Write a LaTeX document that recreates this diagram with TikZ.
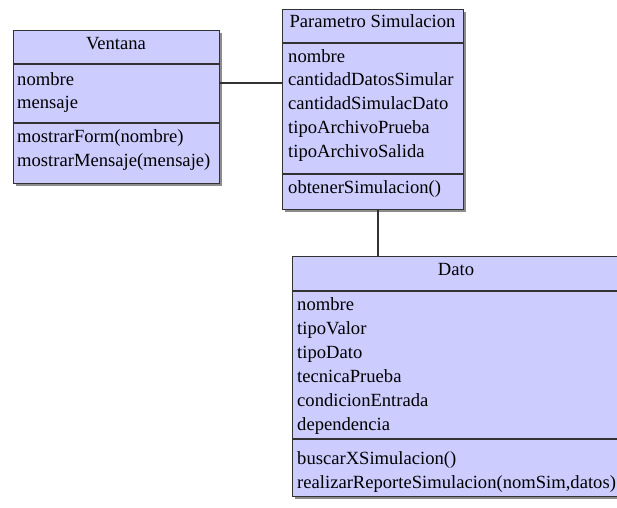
\documentclass[tikz,border=0pt]{standalone}
\usepackage{fontspec}
\setmainfont{Liberation Serif}
\usetikzlibrary{shadows}
\definecolor{classfill}{RGB}{204,204,255}
\definecolor{classline}{RGB}{50,50,50}
\tikzset{
  classbox/.style={draw=classline, line width=1.1pt, fill=classfill, inner sep=0pt,
    anchor=north west,
    drop shadow={shadow xshift=2.5pt, shadow yshift=-2.5pt, fill=black, opacity=0.45}},
  sepline/.style={draw=classline, line width=1.1pt},
  link/.style={draw=classline, line width=1.2pt},
  title/.style={font=\fontsize{18.6}{23.7}\selectfont, anchor=base, inner sep=0pt},
  member/.style={font=\fontsize{18.6}{23.7}\selectfont, anchor=base west, inner sep=0pt},
}
\begin{document}
\begin{tikzpicture}[x=1pt, y=-1pt]
\useasboundingbox (0,0) rectangle (617,507);

% class boxes
\node[classbox, minimum width=206.6pt, minimum height=153pt] (ventana) at (12.7,30) {};
\node[classbox, minimum width=181pt, minimum height=200.5pt] (param) at (282,8.5) {};
\node[classbox, minimum width=328pt, minimum height=240pt] (dato) at (292,256) {};

% compartment separators
\draw[sepline] ([yshift=-34pt]ventana.north west) -- ([yshift=-34pt]ventana.north east);
\draw[sepline] ([yshift=-93pt]ventana.north west) -- ([yshift=-93pt]ventana.north east);
\draw[sepline] ([yshift=-34.5pt]param.north west) -- ([yshift=-34.5pt]param.north east);
\draw[sepline] ([yshift=-165.5pt]param.north west) -- ([yshift=-165.5pt]param.north east);
\draw[sepline] ([yshift=-35pt]dato.north west) -- ([yshift=-35pt]dato.north east);
\draw[sepline] ([yshift=-183pt]dato.north west) -- ([yshift=-183pt]dato.north east);

% associations
\path (ventana.north east) ++(0,53) coordinate (ventanaport);
\draw[link] (ventanaport) -- (ventanaport -| param.west);
\path (param.south west) ++(96,0) coordinate (paramport);
\draw[link] (paramport) -- (paramport |- dato.north);

% Ventana
\node[title] (ventana-t) at (116,49) {Ventana};
\node[member] (ventana-a1) at (17,85) {nombre};
\node[member] (ventana-a2) at (17,108) {mensaje};
\node[member] (ventana-m1) at (17,142.5) {mostrarForm(nombre)};
\node[member] (ventana-m2) at (17,166) {mostrarMensaje(mensaje)};

% Parametro Simulacion
\node[title] (param-t) at (372.5,27) {Parametro Simulacion};
\node[member] (param-a1) at (288,62) {nombre};
\node[member] (param-a2) at (288,85.5) {cantidadDatosSimular};
\node[member] (param-a3) at (288,109) {cantidadSimulacDato};
\node[member] (param-a4) at (288,133) {tipoArchivoPrueba};
\node[member] (param-a5) at (288,157) {tipoArchivoSalida};
\node[member] (param-m1) at (288,193) {obtenerSimulacion()};

% Dato
\node[title] (dato-t) at (456,275) {Dato};
\node[member] (dato-a1) at (297,310) {nombre};
\node[member] (dato-a2) at (297,334) {tipoValor};
\node[member] (dato-a3) at (297,358) {tipoDato};
\node[member] (dato-a4) at (297,382) {tecnicaPrueba};
\node[member] (dato-a5) at (297,406) {condicionEntrada};
\node[member] (dato-a6) at (297,430) {dependencia};
\node[member] (dato-m1) at (297,464) {buscarXSimulacion()};
\node[member] (dato-m2) at (297,488) {realizarReporteSimulacion(nomSim,datos)};
\end{tikzpicture}
\end{document}
